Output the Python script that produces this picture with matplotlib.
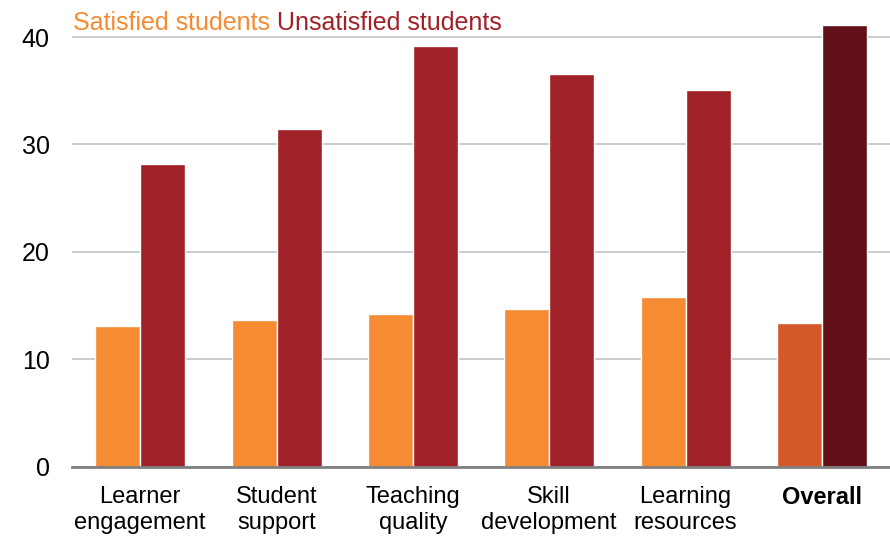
import numpy as np
from matplotlib import pyplot as plt

plt.rcParams['font.family'] = ['Liberation Sans', 'DejaVu Sans']

categories = ['Learner\nengagement', 'Student\nsupport', 'Teaching\nquality',
              'Skill\ndevelopment', 'Learning\nresources', 'Overall']
satisfied = [13.1, 13.7, 14.2, 14.7, 15.8, 13.4]
unsatisfied = [28.2, 31.4, 39.2, 36.6, 35.1, 41.1]

sat_colors = ['#F58B33'] * 5 + ['#D4582A']
unsat_colors = ['#A02127'] * 5 + ['#621017']

fig = plt.figure(figsize=(8.9, 5.36), dpi=100)
ax = fig.add_axes([0.081, 0.129, 0.919, 0.852])

x = np.arange(len(categories))
w = 0.33
ax.bar(x - w / 2, satisfied, w, color=sat_colors, edgecolor='white', linewidth=1, zorder=3)
ax.bar(x + w / 2, unsatisfied, w, color=unsat_colors, edgecolor='white', linewidth=1, zorder=3)

ax.set_xlim(-0.5, 5.5)
ax.set_ylim(0, 42.5)
ax.set_yticks([0, 10, 20, 30, 40])
ax.yaxis.grid(True, color='#BFC3C8', linewidth=1.2, zorder=0)
ax.set_axisbelow(True)
for s in ['top', 'right', 'left']:
    ax.spines[s].set_visible(False)
ax.spines['bottom'].set_color('#7F7F7F')
ax.spines['bottom'].set_linewidth(2)
ax.spines['bottom'].set_zorder(4)
ax.tick_params(axis='both', length=0)
ax.tick_params(axis='y', pad=16, labelsize=18)
ax.tick_params(axis='x', pad=14, labelsize=17)
ax.set_xticks(x)
ax.set_xticklabels(categories, linespacing=1.22)
ax.get_xticklabels()[-1].set_fontweight('bold')

t1 = fig.text(73 / 890, 1 - 23 / 536, 'Satisfied students', color='#F58B33',
              fontsize=18, va='center')
ax.annotate(' Unsatisfied students', xy=(1, 0), xycoords=t1, color='#A02127',
            fontsize=18, va='bottom', annotation_clip=False)

plt.savefig('out.png', dpi=100)
